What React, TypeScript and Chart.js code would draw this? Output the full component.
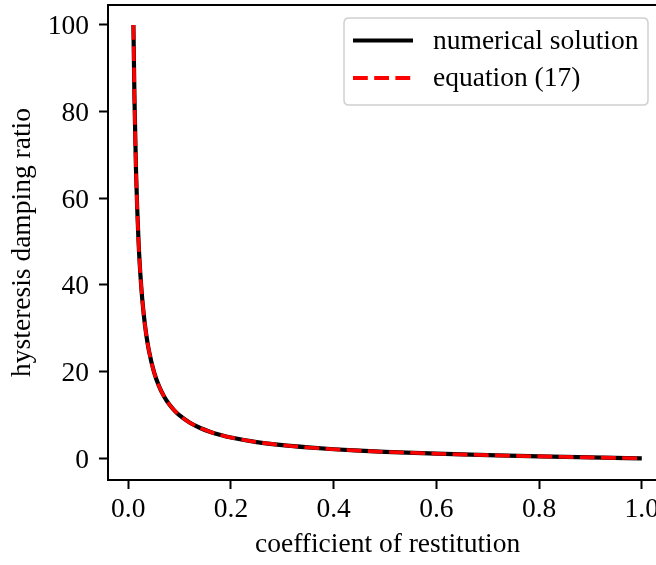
import React, { useEffect, useRef } from "react";
import { Chart, registerables } from "chart.js";

Chart.register(...registerables);

// coefficient of restitution (x)
const restitution = [
  0.01, 0.012, 0.015, 0.02, 0.025, 0.03, 0.035, 0.04, 0.05, 0.06, 0.07, 0.08,
  0.09, 0.1, 0.12, 0.14, 0.16, 0.18, 0.2, 0.25, 0.3, 0.35, 0.4, 0.45, 0.5, 0.6,
  0.7, 0.8, 0.9, 1.0,
];
// hysteresis damping ratio, numerical solution
const numericalDamping = [
  99.99, 83.32, 66.65, 49.98, 39.98, 33.3, 28.54, 24.96, 19.95, 16.61, 14.22,
  12.42, 11.02, 9.9, 8.21, 7.0, 6.09, 5.38, 4.8, 3.75, 3.03, 2.51, 2.1, 1.77,
  1.5, 1.07, 0.73, 0.45, 0.21, 0.0,
];
// hysteresis damping ratio, equation (17)
const equationDamping = [
  99.99, 83.32, 66.65, 49.98, 39.98, 33.3, 28.54, 24.96, 19.95, 16.61, 14.22,
  12.42, 11.02, 9.9, 8.21, 7.0, 6.09, 5.38, 4.8, 3.75, 3.03, 2.51, 2.1, 1.77,
  1.5, 1.07, 0.73, 0.45, 0.21, 0.0,
];
const xTicks = [0, 0.2, 0.4, 0.6, 0.8, 1.0];
const xTickLabels = ["0.0", "0.2", "0.4", "0.6", "0.8", "1.0"];
const yTicks = [0, 20, 40, 60, 80, 100];
const yTickLabels = ["0", "20", "40", "60", "80", "100"];
const seriesNames = ["numerical solution", "equation (17)"];

const FONT = "'Liberation Serif', 'Times New Roman', serif";
const FS = 27.5;

const framePlugin = {
  id: "frame",
  afterDraw(chart: any) {
    const { ctx, chartArea } = chart;
    ctx.save();
    ctx.strokeStyle = "#000";
    ctx.lineWidth = 2;
    ctx.strokeRect(
      chartArea.left,
      chartArea.top,
      chartArea.right - chartArea.left,
      chartArea.bottom - chartArea.top
    );
    ctx.restore();
  },
};

const legendPlugin = {
  id: "customLegend",
  afterDraw(chart: any) {
    const { ctx } = chart;
    ctx.save();
    const bx = 344, by = 18, bw = 304, bh = 87, r = 5;
    ctx.beginPath();
    ctx.moveTo(bx + r, by);
    ctx.lineTo(bx + bw - r, by);
    ctx.quadraticCurveTo(bx + bw, by, bx + bw, by + r);
    ctx.lineTo(bx + bw, by + bh - r);
    ctx.quadraticCurveTo(bx + bw, by + bh, bx + bw - r, by + bh);
    ctx.lineTo(bx + r, by + bh);
    ctx.quadraticCurveTo(bx, by + bh, bx, by + bh - r);
    ctx.lineTo(bx, by + r);
    ctx.quadraticCurveTo(bx, by, bx + r, by);
    ctx.closePath();
    ctx.fillStyle = "rgba(255,255,255,0.8)";
    ctx.fill();
    ctx.strokeStyle = "#d0d0d0";
    ctx.lineWidth = 1.5;
    ctx.stroke();

    const rows = [
      { y: 40.5, color: "#000", dash: [] as number[], text: seriesNames[0] },
      { y: 78, color: "#ff0000", dash: [14.8, 6.4], text: seriesNames[1] },
    ];
    ctx.font = `${FS}px ${FONT}`;
    ctx.textBaseline = "middle";
    ctx.textAlign = "left";
    rows.forEach((row) => {
      ctx.beginPath();
      ctx.setLineDash(row.dash);
      ctx.strokeStyle = row.color;
      ctx.lineWidth = 4;
      ctx.lineCap = "butt";
      ctx.moveTo(353, row.y);
      ctx.lineTo(413, row.y);
      ctx.stroke();
      ctx.setLineDash([]);
      ctx.fillStyle = "#000";
      ctx.fillText(row.text, 433, row.y + 1);
    });
    ctx.restore();
  },
};

export default function App() {
  const ref = useRef<HTMLCanvasElement | null>(null);

  useEffect(() => {
    if (!ref.current) return;
    const chart = new Chart(ref.current, {
      type: "line",
      data: {
        datasets: [
          {
            label: seriesNames[0],
            data: restitution.map((x, i) => ({ x, y: numericalDamping[i] })),
            borderColor: "#000",
            borderWidth: 4.2,
            pointRadius: 0,
            cubicInterpolationMode: "monotone",
            fill: false,
            order: 2,
          },
          {
            label: seriesNames[1],
            data: restitution.map((x, i) => ({ x, y: equationDamping[i] })),
            borderColor: "#ff0000",
            borderWidth: 3.6,
            borderDash: [14.8, 6.4],
            pointRadius: 0,
            cubicInterpolationMode: "monotone",
            fill: false,
            order: 1,
          },
        ],
      },
      options: {
        responsive: false,
        animation: false,
        devicePixelRatio: 1,
        layout: { padding: { left: 0, top: 5, right: 12.8, bottom: 0 } },
        plugins: {
          legend: { display: false },
          tooltip: { enabled: false },
        },
        scales: {
          x: {
            type: "linear",
            min: -0.0395,
            max: 1.0495,
            afterBuildTicks: (s: any) => {
              s.ticks = xTicks.map((v) => ({ value: v }));
            },
            afterFit: (s: any) => {
              s.height = 85;
              s.paddingLeft = 0;
              s.paddingRight = 0;
            },
            ticks: {
              color: "#000",
              font: { family: FONT, size: FS },
              padding: 4,
              maxRotation: 0,
              autoSkip: false,
              callback: (v: any) => {
                const i = xTicks.findIndex((t) => Math.abs(t - v) < 1e-9);
                return i >= 0 ? xTickLabels[i] : "";
              },
            },
            grid: {
              display: true,
              drawOnChartArea: false,
              drawTicks: true,
              tickLength: 9,
              tickWidth: 2,
              tickColor: "#000",
            },
            border: { display: true, color: "#000", width: 2 },
            title: {
              display: true,
              text: "coefficient of restitution",
              color: "#000",
              font: { family: FONT, size: FS },
              padding: { top: 0, bottom: 4 },
            },
          },
          y: {
            type: "linear",
            min: -5.0,
            max: 104.6,
            afterBuildTicks: (s: any) => {
              s.ticks = yTicks.map((v) => ({ value: v }));
            },
            afterFit: (s: any) => {
              s.width = 108;
              s.paddingTop = 0;
              s.paddingBottom = 0;
            },
            ticks: {
              color: "#000",
              font: { family: FONT, size: FS },
              padding: 10,
              labelOffset: 2,
              autoSkip: false,
              callback: (v: any) => {
                const i = yTicks.findIndex((t) => Math.abs(t - v) < 1e-9);
                return i >= 0 ? yTickLabels[i] : "";
              },
            },
            grid: {
              display: true,
              drawOnChartArea: false,
              drawTicks: true,
              tickLength: 9,
              tickWidth: 2,
              tickColor: "#000",
            },
            border: { display: true, color: "#000", width: 2 },
            title: {
              display: true,
              text: "hysteresis damping ratio",
              color: "#000",
              font: { family: FONT, size: FS },
              padding: { top: 6, bottom: 0 },
            },
          },
        },
      },
      plugins: [framePlugin, legendPlugin],
    } as any);
    return () => chart.destroy();
  }, []);

  return (
    <div
      style={{
        position: "fixed",
        left: 0,
        top: 0,
        width: 656,
        height: 565,
        overflow: "hidden",
        background: "#fff",
      }}
    >
      <canvas
        ref={ref}
        width={680}
        height={565}
        style={{ display: "block", width: 680, height: 565 }}
      />
    </div>
  );
}
